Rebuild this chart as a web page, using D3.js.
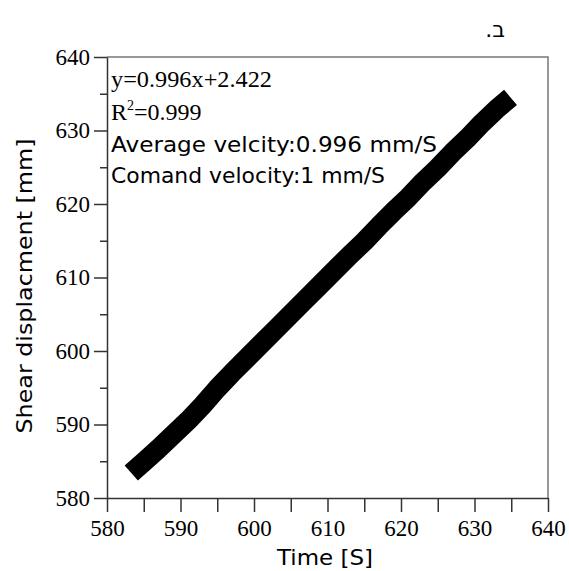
<!DOCTYPE html>
<html>
<head>
<meta charset="utf-8">
<script src="https://cdn.jsdelivr.net/npm/d3@7"></script>
<style>
  body { margin: 0; background: #fff; }
  svg { display: block; }
</style>
</head>
<body>
<svg id="chart"></svg>
<script>
// data
const timeS = [583.3, 585, 587, 589, 591, 593, 595, 597, 599, 601, 603, 605, 607, 609,
    611, 613, 615, 617, 619, 621, 623, 625, 627, 629, 631, 633, 634.9];
const shearMm = [583.4, 584.9, 586.7, 588.6, 590.5, 592.6, 594.9, 597.0, 599.0, 601.0, 603.0, 605.0, 607.0, 609.0,
    611.0, 613.0, 614.9, 617.0, 619.0, 620.9, 623.0, 624.9, 627.0, 628.9, 631.0, 632.9, 634.5];
const xTicks = [580, 590, 600, 610, 620, 630, 640];
const yTicks = [580, 590, 600, 610, 620, 630, 640];
const minorTicks = [585, 595, 605, 615, 625, 635];
const notes = ["Average velcity:0.996 mm/S", "Comand velocity:1 mm/S"];

const width = 569, height = 571;
const margin = {top: 57, right: 21, bottom: 73, left: 107};

const svg = d3.select("#chart")
    .attr("width", width)
    .attr("height", height);

const x = d3.scaleLinear().domain([580, 640]).range([margin.left, width - margin.right]);
const y = d3.scaleLinear().domain([580, 640]).range([height - margin.bottom, margin.top]);

const serif = "'Liberation Serif', 'Times New Roman', serif";
const sans = "'Comic Sans MS', 'DejaVu Sans', sans-serif";

// frame on top and right
svg.append("path")
    .attr("d", `M${x(580)},${y(640)}H${x(640)}V${y(580)}`)
    .attr("fill", "none")
    .attr("stroke", "#777")
    .attr("stroke-width", 1.5);

// minor ticks
svg.append("g")
    .attr("transform", `translate(0,${y(580)})`)
    .call(d3.axisBottom(x).tickValues(minorTicks).tickSize(14).tickFormat(""))
    .call(g => g.select(".domain").remove())
    .selectAll("line").attr("stroke", "#333").attr("stroke-width", 1.5);
svg.append("g")
    .attr("transform", `translate(${x(580)},0)`)
    .call(d3.axisLeft(y).tickValues(minorTicks).tickSize(7).tickFormat(""))
    .call(g => g.select(".domain").remove())
    .selectAll("line").attr("stroke", "#333").attr("stroke-width", 1.5);

// X axis
const gx = svg.append("g")
    .attr("transform", `translate(0,${y(580)})`)
    .call(d3.axisBottom(x).tickValues(xTicks).tickSize(14).tickSizeOuter(0).tickPadding(8));
gx.select(".domain").attr("stroke", "#333").attr("stroke-width", 1.5);
gx.selectAll("line").attr("stroke", "#333").attr("stroke-width", 1.5);
gx.selectAll("text")
    .attr("fill", "#000")
    .style("font-family", serif)
    .style("font-size", "23px");

// Y axis
const gy = svg.append("g")
    .attr("transform", `translate(${x(580)},0)`)
    .call(d3.axisLeft(y).tickValues(yTicks).tickSize(13).tickSizeOuter(0).tickPadding(4));
gy.select(".domain").attr("stroke", "#333").attr("stroke-width", 1.5);
gy.selectAll("line").attr("stroke", "#333").attr("stroke-width", 1.5);
gy.selectAll("text")
    .attr("fill", "#000")
    .style("font-family", serif)
    .style("font-size", "23px");

// the measured line
const pts = timeS.map((t, i) => [t, shearMm[i]]);
svg.append("path")
    .datum(pts)
    .attr("fill", "none")
    .attr("stroke", "#000")
    .attr("stroke-width", 20)
    .attr("stroke-linejoin", "round")
    .attr("stroke-linecap", "butt")
    .attr("d", d3.line()
        .x(function(d) { return x(d[0]); })
        .y(function(d) { return y(d[1]); }));

// fit text
svg.append("text")
    .attr("x", 111)
    .attr("y", 87)
    .attr("textLength", 161)
    .attr("lengthAdjust", "spacingAndGlyphs")
    .style("font-family", serif)
    .style("font-size", "24px")
    .text("y=0.996x+2.422");

const r2 = svg.append("text")
    .attr("x", 111)
    .attr("y", 120)
    .style("font-family", serif)
    .style("font-size", "24px");
r2.append("tspan").text("R");
r2.append("tspan").attr("dy", -10).style("font-size", "14px").text("2");
r2.append("tspan").attr("dy", 10).text("=0.999");

svg.selectAll("text.note")
    .data(notes)
    .enter()
    .append("text")
    .attr("class", "note")
    .attr("x", 111)
    .attr("y", function(d, i) { return 152 + i * 31; })
    .attr("textLength", function(d, i) { return i === 0 ? 326 : 274; })
    .attr("lengthAdjust", "spacingAndGlyphs")
    .style("font-family", sans)
    .style("font-size", "22px")
    .text(function(d) { return d; });

// axis titles
svg.append("text")
    .attr("x", 325)
    .attr("y", 565)
    .attr("text-anchor", "middle")
    .attr("textLength", 96)
    .attr("lengthAdjust", "spacingAndGlyphs")
    .style("font-family", sans)
    .style("font-size", "21px")
    .text("Time [S]");

svg.append("text")
    .attr("transform", "translate(32,286) rotate(-90)")
    .attr("text-anchor", "middle")
    .attr("textLength", 295)
    .attr("lengthAdjust", "spacingAndGlyphs")
    .style("font-family", sans)
    .style("font-size", "21px")
    .text("Shear displacment [mm]");

// panel label (right to left)
svg.append("text")
    .attr("x", 505)
    .attr("y", 37)
    .attr("direction", "rtl")
    .attr("text-anchor", "start")
    .style("font-family", "'DejaVu Sans', sans-serif")
    .style("font-size", "22px")
    .text("ב.");
</script>
</body>
</html>
